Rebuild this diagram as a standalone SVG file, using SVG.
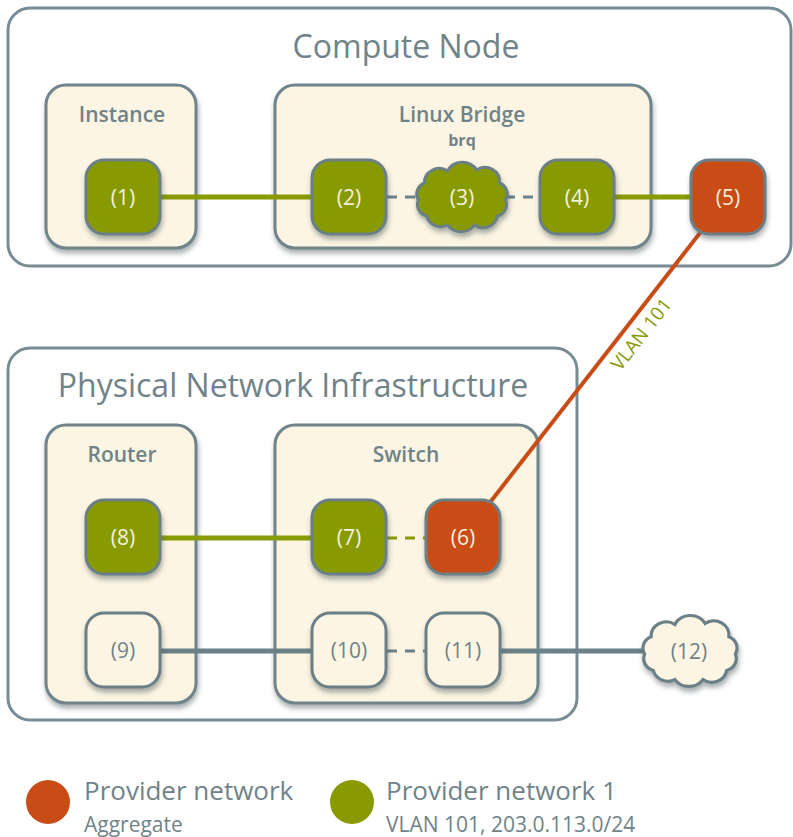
<svg xmlns="http://www.w3.org/2000/svg" xmlns:xlink="http://www.w3.org/1999/xlink" width="793" height="837" viewBox="0 0 793 837">
<style>
.outer{fill:#ffffff;stroke:#778c93;stroke-width:3}
.box{fill:#fcf5e3;stroke:#6f848b;stroke-width:3;filter:url(#sh)}
.title{font-family:"Open Sans","DejaVu Sans",sans-serif;font-size:32px;fill:#6f8389;text-anchor:middle}
.lbl{font-family:"Open Sans","DejaVu Sans",sans-serif;font-size:21px;font-weight:600;fill:#6f8389;text-anchor:middle}
.sub{font-family:"Open Sans","DejaVu Sans",sans-serif;font-size:16px;font-weight:700;fill:#6f8389;text-anchor:middle}
.green{fill:#879a00;stroke:#6a7f86;stroke-width:3;filter:url(#sh)}
.orange{fill:#c94c16;stroke:#6a7f86;stroke-width:3;filter:url(#sh)}
.plain{fill:#fcf5e3;stroke:#6a7f86;stroke-width:3;filter:url(#sh)}
.nt{font-family:"Open Sans","DejaVu Sans",sans-serif;font-size:21px;fill:#f6f1de;text-anchor:middle}
.ntg{font-family:"Open Sans","DejaVu Sans",sans-serif;font-size:21px;fill:#6f8389;text-anchor:middle}
.lg{stroke:#889b05;stroke-width:5;fill:none}
.lgd{stroke:#889b05;stroke-width:3;stroke-dasharray:10 8;fill:none}
.gr{stroke:#6b8087;stroke-width:5;fill:none}
.grd{stroke:#6b8087;stroke-width:3;stroke-dasharray:10 8;fill:none}
.or{stroke:#c94c16;stroke-width:4;fill:none}
.vlan{font-family:"Open Sans","DejaVu Sans",sans-serif;font-size:19px;fill:#889b05;text-anchor:middle}
.leg1{font-family:"Open Sans","DejaVu Sans",sans-serif;font-size:26px;fill:#6f8389}
.leg2{font-family:"Open Sans","DejaVu Sans",sans-serif;font-size:21px;fill:#6f8389}
</style>
<defs>
<filter id="sh" x="-20%" y="-20%" width="140%" height="150%">
<feDropShadow dx="1" dy="4" stdDeviation="2.5" flood-color="#3f4f55" flood-opacity="0.45"/>
</filter>
<path id="cloud" d="M-36,-14 A14,14 0 0 1 -14,-26 A16,16 0 0 1 14,-27 A14,14 0 0 1 36,-14 A12,12 0 0 1 42,3 A12,12 0 0 1 34,19 A14,14 0 0 1 12,28 A16,16 0 0 1 -14,28 A14,14 0 0 1 -34,19 A12,12 0 0 1 -42,3 A12,12 0 0 1 -36,-14 Z"/>
</defs>

<g id="compute-node">
<rect class="outer" x="8" y="8" width="783" height="258" rx="22"/>
<text class="title" x="406" y="58">Compute Node</text>
</g>
<g id="physical-network">
<rect class="outer" x="8" y="348" width="569" height="372" rx="22"/>
<text class="title" x="293" y="397">Physical Network Infrastructure</text>
</g>

<g id="instance">
<rect class="box" x="46" y="85" width="150" height="163" rx="20"/>
<text class="lbl" x="122" y="122">Instance</text>
</g>
<g id="linux-bridge">
<rect class="box" x="275" y="85" width="376" height="163" rx="20"/>
<text class="lbl" x="462" y="122">Linux Bridge</text>
<text class="sub" x="462" y="146">brq</text>
</g>
<g id="router">
<rect class="box" x="46" y="425" width="150" height="278" rx="20"/>
<text class="lbl" x="122" y="462">Router</text>
</g>
<g id="switch">
<rect class="box" x="275" y="425" width="263" height="278" rx="20"/>
<text class="lbl" x="406" y="462">Switch</text>
</g>

<g id="connectors">
<line class="lg" x1="123" y1="197" x2="349" y2="197"/>
<line class="grd" x1="387" y1="197" x2="420" y2="197"/>
<line class="grd" x1="505" y1="197" x2="540" y2="197"/>
<line class="lg" x1="577" y1="197" x2="728" y2="197"/>
<line class="or" x1="728" y1="197" x2="463" y2="537"/>
<line class="lg" x1="123" y1="538" x2="349" y2="538"/>
<line class="lgd" x1="387" y1="538" x2="426" y2="538"/>
<line class="gr" x1="123" y1="651" x2="349" y2="651"/>
<line class="grd" x1="387" y1="651" x2="426" y2="651"/>
<line class="gr" x1="463" y1="651" x2="650" y2="651"/>
<text class="vlan" transform="translate(641,334) rotate(-52)" x="0" y="7">VLAN 101</text>
</g>

<g id="n1"><rect class="green" x="86" y="160" width="74" height="74" rx="18"/><text class="nt" x="123" y="205">(1)</text></g>
<g id="n2"><rect class="green" x="312" y="160" width="74" height="74" rx="18"/><text class="nt" x="349" y="205">(2)</text></g>
<g id="n3"><use xlink:href="#cloud" href="#cloud" class="green" transform="translate(462,197) scale(1.04,1)"/><text class="nt" x="462" y="205">(3)</text></g>
<g id="n4"><rect class="green" x="540" y="160" width="74" height="74" rx="18"/><text class="nt" x="577" y="205">(4)</text></g>
<g id="n5"><rect class="orange" x="691" y="160" width="74" height="74" rx="18"/><text class="nt" x="728" y="205">(5)</text></g>
<g id="n6"><rect class="orange" x="426" y="500" width="74" height="74" rx="18"/><text class="nt" x="463" y="545">(6)</text></g>
<g id="n7"><rect class="green" x="312" y="500" width="74" height="74" rx="18"/><text class="nt" x="349" y="545">(7)</text></g>
<g id="n8"><rect class="green" x="86" y="500" width="74" height="74" rx="18"/><text class="nt" x="123" y="545">(8)</text></g>
<g id="n9"><rect class="plain" x="86" y="613" width="74" height="74" rx="18"/><text class="ntg" x="123" y="658">(9)</text></g>
<g id="n10"><rect class="plain" x="312" y="613" width="74" height="74" rx="18"/><text class="ntg" x="349" y="658">(10)</text></g>
<g id="n11"><rect class="plain" x="426" y="613" width="74" height="74" rx="18"/><text class="ntg" x="463" y="658">(11)</text></g>
<g id="n12"><use xlink:href="#cloud" href="#cloud" class="plain" transform="translate(690,651) scale(1.08,1.02)"/><text class="ntg" x="689" y="659">(12)</text></g>

<g id="legend">
<circle cx="48" cy="802" r="22" fill="#c94c16"/>
<text class="leg1" x="84" y="800">Provider network</text>
<text class="leg2" x="84" y="832">Aggregate</text>
<circle cx="352" cy="802" r="22" fill="#879a00"/>
<text class="leg1" x="386" y="800">Provider network 1</text>
<text class="leg2" x="386" y="832">VLAN 101, 203.0.113.0/24</text>
</g>
</svg>
